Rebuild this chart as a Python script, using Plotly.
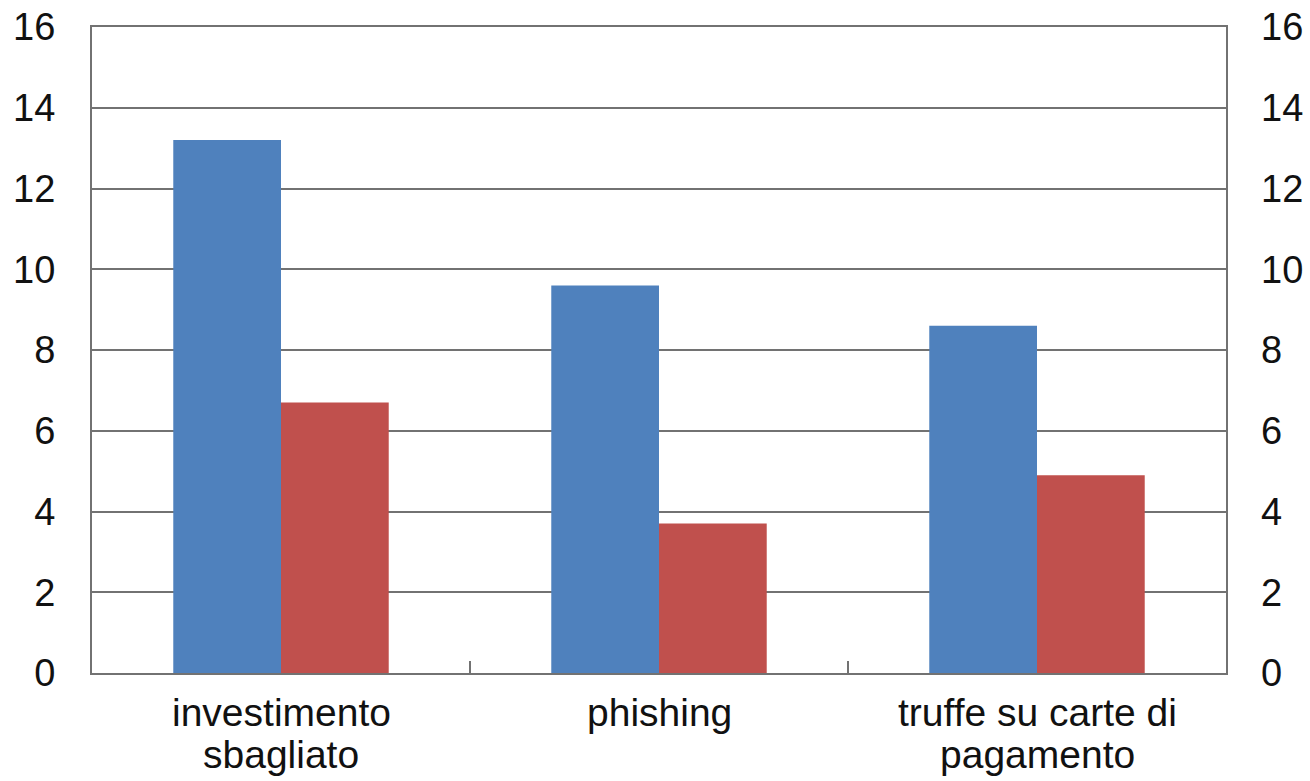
import plotly.graph_objects as go

categories = ["investimento<br>sbagliato", "phishing", "truffe su carte di<br>pagamento"]
serie_blu = [13.2, 9.6, 8.6]
serie_rossa = [6.7, 3.7, 4.9]
y_ticks = [0, 2, 4, 6, 8, 10, 12, 14, 16]

FAMILY = "Liberation Sans, Arial, sans-serif"
TICK_FONT = dict(family=FAMILY, size=38, color="#111111")
CAT_FONT = dict(family=FAMILY, size=39, color="#111111")
LINE = "#727272"

fig = go.Figure()
fig.add_trace(go.Bar(x=categories, y=serie_blu, marker=dict(color="#4F81BD", line=dict(width=0)),
                     showlegend=False))
fig.add_trace(go.Bar(x=categories, y=serie_rossa, marker=dict(color="#C0504D", line=dict(width=0)),
                     showlegend=False))
# invisible trace to anchor the right-hand axis
fig.add_trace(go.Scatter(x=categories, y=serie_blu, yaxis="y2", mode="markers",
                         marker=dict(opacity=0), showlegend=False, hoverinfo="skip"))

# category labels, one annotation per text line for tighter line spacing
for cat in categories:
    for i, part in enumerate(cat.split("<br>")):
        fig.add_annotation(x=cat, xref="x", y=0, yref="paper", text=part,
                           showarrow=False, xanchor="center", yanchor="middle",
                           yshift=-39 - 42 * i, font=CAT_FONT)

fig.update_layout(
    width=1310, height=781,
    margin=dict(l=92, r=84, t=27, b=108),
    paper_bgcolor="white", plot_bgcolor="white",
    barmode="group", bargap=0.43, bargroupgap=0,
    font=TICK_FONT,
    xaxis=dict(
        type="category", tickson="boundaries", ticks="inside", ticklen=12,
        tickcolor=LINE, tickwidth=2, showline=True, linecolor=LINE, linewidth=2,
        mirror=True, showgrid=False, showticklabels=False, automargin=False,
    ),
    yaxis=dict(
        range=[0, 16], tickvals=y_ticks, showgrid=True, gridcolor=LINE, gridwidth=2,
        showline=True, linecolor=LINE, linewidth=2, mirror=True, ticks="",
        ticklabelstandoff=27, tickfont=TICK_FONT, zeroline=False, automargin=False,
    ),
    yaxis2=dict(
        range=[0, 16], tickvals=y_ticks, overlaying="y", side="right", showgrid=False,
        showline=False, ticks="", ticklabelstandoff=34, tickfont=TICK_FONT,
        zeroline=False, automargin=False,
    ),
)

fig.write_html("out.html")
